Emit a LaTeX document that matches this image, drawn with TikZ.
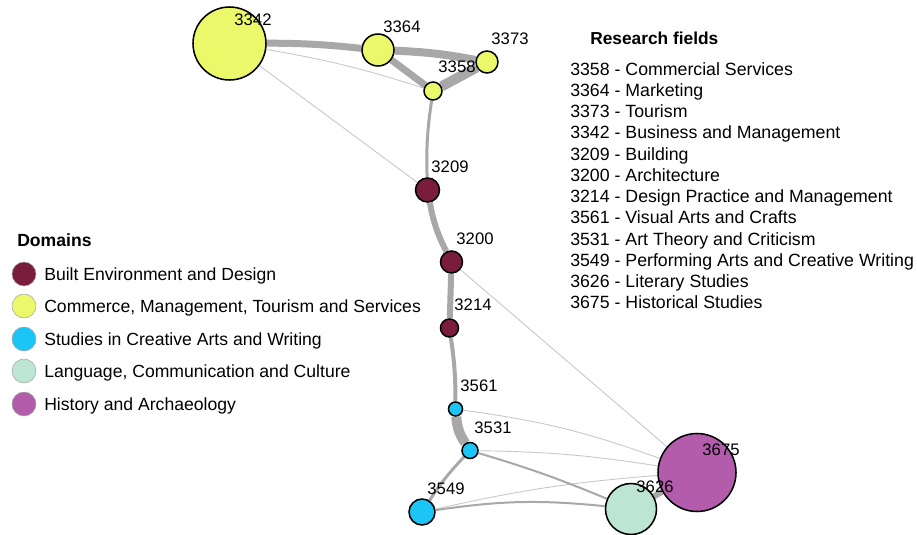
\documentclass[tikz,border=0pt]{standalone}
\usepackage{fontspec}
\setmainfont{Liberation Sans}
\newdimen\pxu \pxu=0.75pt
\pgfdeclarelayer{bg}
\pgfsetlayers{bg,main}
\definecolor{maroon}{HTML}{7A1D3C}
\definecolor{yel}{HTML}{EBF86A}
\definecolor{cyn}{HTML}{1BC6F7}
\definecolor{mint}{HTML}{BDE5D3}
\definecolor{purp}{HTML}{B35CAB}
\definecolor{edg}{HTML}{A8A8A8}
\definecolor{edl}{HTML}{C8C8C8}
\tikzset{
  fn/.style={circle, draw=black, line width=1.15pt, inner sep=0pt, minimum size=#1},
  lg/.style={circle, draw=gray!70, line width=0.4pt, inner sep=0pt, minimum size=24\pxu},
  lab/.style={font=\fontsize{12.5}{14}\selectfont, inner sep=0pt},
  ltx/.style={font=\fontsize{13.2}{15}\selectfont, inner sep=0pt, anchor=west, text height=12.5pt, text depth=2.8pt},
  rtx/.style={font=\fontsize{13.3}{15}\selectfont, inner sep=0pt, anchor=west, text height=12.5pt, text depth=2.8pt},
  thick edge/.style={draw=edg, line width=#1\pxu},
  thin edge/.style={draw=edl, line width=0.9\pxu},
}
\begin{document}
\begin{tikzpicture}[x=\pxu, y=-\pxu]
\useasboundingbox (0,0) rectangle (917,535);
% nodes
\node[fn=73\pxu, fill=yel] (n3342) at (229.5,43.5) {};
\node[fn=32\pxu, fill=yel] (n3364) at (378,50) {};
\node[fn=22\pxu, fill=yel] (n3373) at (487,62) {};
\node[fn=18\pxu, fill=yel] (n3358) at (433,91) {};
\node[fn=24\pxu, fill=maroon] (n3209) at (427.5,190) {};
\node[fn=22\pxu, fill=maroon] (n3200) at (451.5,262) {};
\node[fn=18\pxu, fill=maroon] (n3214) at (449.5,328) {};
\node[fn=14\pxu, fill=cyn] (n3561) at (455.5,409) {};
\node[fn=16\pxu, fill=cyn] (n3531) at (470,450.5) {};
\node[fn=26\pxu, fill=cyn] (n3549) at (422,512) {};
\node[fn=51\pxu, fill=mint] (n3626) at (631,509) {};
\node[fn=78\pxu, fill=purp] (n3675) at (697,472.5) {};
% labels
\node[lab] (l3342) at (253,20) {3342};
\node[lab] (l3364) at (402,27) {3364};
\node[lab] (l3373) at (510,39) {3373};
\node[lab] (l3358) at (457,67) {3358};
\node[lab] (l3209) at (450,167) {3209};
\node[lab] (l3200) at (475,239) {3200};
\node[lab] (l3214) at (473,305) {3214};
\node[lab] (l3561) at (479,386) {3561};
\node[lab] (l3531) at (493,428) {3531};
\node[lab] (l3549) at (446,489) {3549};
\node[lab] (l3626) at (655,487) {3626};
\node[lab] (l3675) at (721,450) {3675};
% edges
\begin{pgfonlayer}{bg}
\draw[thin edge] (n3342) to[bend left=4] (n3358);
\draw[thin edge] (n3342) -- (n3209);
\draw[thin edge] (n3200) -- (n3675);
\draw[thin edge] (n3561) to[bend left=6] (n3675);
\draw[thin edge] (n3531) to[bend left=4] (n3675);
\draw[thin edge] (n3549) to[bend left=4] (n3675);
\draw[thick edge=7] (n3342) to[bend left=3] (n3364);
\draw[thick edge=8] (n3364) to[bend left=4] (n3373);
\draw[thick edge=7] (n3364) -- (n3358);
\draw[thick edge=10] (n3373) -- (n3358);
\draw[thick edge=3] (n3358) to[bend right=5] (n3209);
\draw[thick edge=6] (n3209) to[bend right=8] (n3200);
\draw[thick edge=6] (n3200) -- (n3214);
\draw[thick edge=4] (n3214) to[bend left=4] (n3561);
\draw[thick edge=10] (n3561) to[bend right=14] (n3531);
\draw[thick edge=2] (n3531) to[bend left=3] (n3626);
\draw[thick edge=3] (n3531) to[bend right=5] (n3549);
\draw[thick edge=2] (n3549) to[bend left=7] (n3626);
\draw[thick edge=6] (n3626) -- (n3675);
\end{pgfonlayer}
% legend
\node[ltx, font=\fontsize{13.2}{15}\selectfont\bfseries] (dom) at (17,240) {Domains};
\node[lg, fill=maroon] (c1) at (24,274) {};
\node[lg, fill=yel] (c2) at (24,306) {};
\node[lg, fill=cyn] (c3) at (24,339) {};
\node[lg, fill=mint] (c4) at (24,371) {};
\node[lg, fill=purp] (c5) at (24,404) {};
\node[ltx] (t1) at (44,274) {Built Environment and Design};
\node[ltx] (t2) at (44,306) {Commerce, Management, Tourism and Services};
\node[ltx] (t3) at (44,339) {Studies in Creative Arts and Writing};
\node[ltx] (t4) at (44,371) {Language, Communication and Culture};
\node[ltx] (t5) at (44,404) {History and Archaeology};
% research fields
\node[rtx, font=\fontsize{13}{15}\selectfont\bfseries] (rf) at (590,38) {Research fields};
\node[rtx] (r1) at (570,69) {3358 - Commercial Services};
\node[rtx] (r2) at (570,90) {3364 - Marketing};
\node[rtx] (r3) at (570,111) {3373 - Tourism};
\node[rtx] (r4) at (570,132) {3342 - Business and Management};
\node[rtx] (r5) at (570,154) {3209 - Building};
\node[rtx] (r6) at (570,175) {3200 - Architecture};
\node[rtx] (r7) at (570,196) {3214 - Design Practice and Management};
\node[rtx] (r8) at (570,217) {3561 - Visual Arts and Crafts};
\node[rtx] (r9) at (570,239) {3531 - Art Theory and Criticism};
\node[rtx] (r10) at (570,260) {3549 - Performing Arts and Creative Writing};
\node[rtx] (r11) at (570,281) {3626 - Literary Studies};
\node[rtx] (r12) at (570,302) {3675 - Historical Studies};
\end{tikzpicture}
\end{document}
